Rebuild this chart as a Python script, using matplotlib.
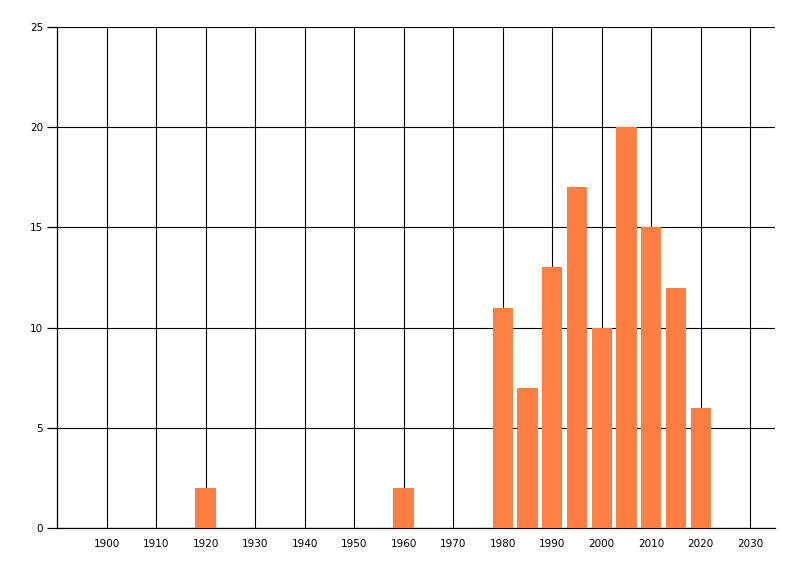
import matplotlib
matplotlib.use("Agg")
import matplotlib.pyplot as plt

# values
years = [1920, 1960, 1980, 1985, 1990, 1995, 2000, 2005, 2010, 2015, 2020]
counts = [2, 2, 11, 7, 13, 17, 10, 20, 15, 12, 6]
x_ticks = list(range(1900, 2031, 10))
y_ticks = [0, 5, 10, 15, 20, 25]

fig = plt.figure(figsize=(8, 5.76), dpi=100)
ax = fig.add_axes([57 / 800, 1 - 528 / 576, 718 / 800, 501 / 576])

ax.bar(years, counts, width=4.1, color="#ff7f42", zorder=3)

ax.set_xlim(1890, 2035)
ax.set_ylim(0, 25)
ax.set_xticks(x_ticks)
ax.set_yticks(y_ticks)
ax.set_xticklabels([str(t) for t in x_ticks])
ax.grid(True, color="black", linewidth=0.8, zorder=0)
ax.set_axisbelow(True)

for side in ["top", "right"]:
    ax.spines[side].set_visible(False)
for side in ["left", "bottom"]:
    ax.spines[side].set_linewidth(0.9)

ax.tick_params(axis="y", length=7, width=0.9, pad=3, labelsize=7.5)
ax.tick_params(axis="x", length=0, pad=8, labelsize=7.5)

fig.savefig("out.png", dpi=100)
